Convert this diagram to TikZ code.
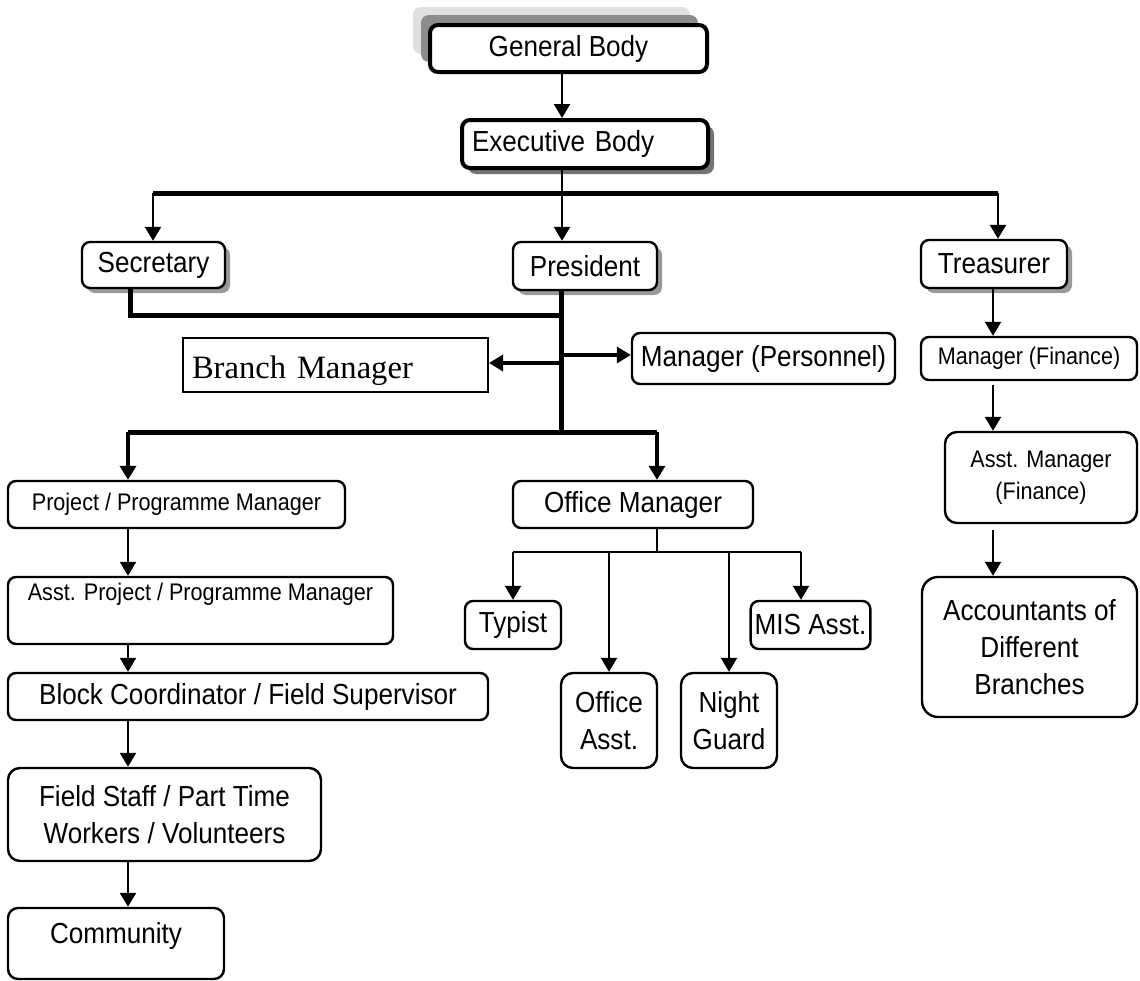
\documentclass[tikz,border=0pt]{standalone}
\usepackage{fontspec}
\setmainfont{Liberation Sans}[FakeStretch=0.9]
\newfontfamily\tnrfont{Liberation Serif}
\usetikzlibrary{arrows.meta,shadows}

\begin{document}
\begin{tikzpicture}[
    x=0.5pt, y=-0.5pt,
    box/.style={rectangle, rounded corners=4pt, draw, line width=1.2pt, fill=white, align=center, inner sep=2pt, font=\fontsize{14.5}{18.5}\selectfont},
    smallbox/.style={box, font=\fontsize{12}{16}\selectfont},
    topbox/.style={box, line width=2pt},
    shade/.style={drop shadow={shadow xshift=2.5pt, shadow yshift=-2.5pt, fill=black!40, opacity=1}},
    link/.style={line width=1.15pt},
    arrow/.style={link, -{Triangle[width=8pt,length=7pt]}},
    midarrow/.style={arrow, line width=1.7pt},
    thickarrow/.style={arrow, line width=2.2pt},
    bus/.style={line width=2.5pt}
]
    \path[use as bounding box, fill=white] (0,0) rectangle (1140,980);

    % top of the chart
    \node[topbox, minimum width=138.5pt, minimum height=23.5pt,
          general shadow={shadow xshift=-8.5pt, shadow yshift=9pt, fill=black!12},
          general shadow={shadow xshift=-4.5pt, shadow yshift=5pt, fill=black!45}] (general) at (568.5,48.5) {General Body};
    \node[topbox, minimum width=123pt, minimum height=24pt, text width=113pt, inner xsep=5pt, align=left,
          drop shadow={shadow xshift=3pt, shadow yshift=-3pt, fill=black!55, opacity=1}] (exec) at (585,144) {Executive Body};

    \node[box, shade, minimum width=71.5pt, minimum height=23pt] (secretary) at (153.5,265) {Secretary};
    \node[box, shade, minimum width=72pt, minimum height=24pt] (president) at (585,266) {President};
    \node[box, shade, minimum width=73pt, minimum height=24pt] (treasurer) at (994,264) {Treasurer};

    \node[rectangle, draw, line width=1pt, fill=white, minimum width=152.5pt, minimum height=27pt,
          text width=143.5pt, inner xsep=4.5pt, align=left, text height=13pt, text depth=0pt,
          font=\tnrfont\fontsize{16.3}{19}\selectfont] (branch) at (335.5,365) {Branch Manager};
    \node[box, minimum width=131.5pt, minimum height=25.5pt] (personnel) at (763.5,358.5) {Manager (Personnel)};

    % finance side
    \node[smallbox, minimum width=108pt, minimum height=21.5pt] (finance) at (1029,358.5) {Manager (Finance)};
    \node[smallbox, rounded corners=6pt, minimum width=96pt, minimum height=45.5pt] (asstfinance) at (1041,477.5) {Asst. Manager\\(Finance)};
    \node[box, rounded corners=8pt, minimum width=107.5pt, minimum height=70pt] (accountants) at (1029.5,647) {Accountants of\\Different\\Branches};

    % project side
    \node[smallbox, minimum width=168.5pt, minimum height=23.5pt] (project) at (176.5,504.5) {Project / Programme Manager};
    \node[smallbox, minimum width=192.5pt, minimum height=33.5pt, text height=9pt, text depth=19.5pt] (asstproject) at (200.5,610.5) {Asst. Project / Programme Manager};
    \node[box, minimum width=240pt, minimum height=23.5pt] (block) at (248,696.5) {Block Coordinator / Field Supervisor};
    \node[box, rounded corners=6pt, minimum width=156.5pt, minimum height=46.5pt] (field) at (164.5,814.5) {Field Staff / Part Time\\Workers / Volunteers};
    \node[box, rounded corners=5pt, minimum width=108pt, minimum height=35.5pt, text height=10pt, text depth=10pt] (community) at (116,943.5) {Community};

    % office side
    \node[box, minimum width=120pt, minimum height=23.5pt] (office) at (633,504.5) {Office Manager};
    \node[box, minimum width=48pt, minimum height=24pt] (typist) at (513,625) {Typist};
    \node[box, rounded corners=6pt, minimum width=48pt, minimum height=47.5pt] (officeasst) at (609,720.5) {Office\\Asst.};
    \node[box, rounded corners=6pt, minimum width=48pt, minimum height=47.5pt] (nightguard) at (729,720.5) {Night\\Guard};
    \node[box, minimum width=57.5pt, minimum height=24pt] (mis) at (810.5,625) {MIS Asst.};

    % junctions
    \coordinate (topbus) at (562,193);
    \coordinate (busL) at (153,193);
    \coordinate (busR) at (998,193);
    \coordinate (secbend) at (130,315);
    \coordinate (spine) at (561,315);
    \coordinate (brj) at (561,363);
    \coordinate (pej) at (561,355);
    \coordinate (lowL) at (128,432);
    \coordinate (lowR) at (657,432);
    \coordinate (lowbus) at (561,432);
    \coordinate (finx) at (993,300);
    \coordinate (ombus) at (657,552);
    \coordinate (omL) at (513,552);
    \coordinate (omR) at (801,552);

    \draw[arrow] (general.south -| topbus) -- (exec.north -| topbus);
    \draw[link] (exec.south -| topbus) -- (topbus);
    \draw[bus] (busL) -- (busR);
    \draw[arrow] (busL) -- (secretary.north -| busL);
    \draw[arrow] (topbus) -- (president.north -| topbus);
    \draw[arrow] (busR) -- (treasurer.north -| busR);

    \draw[bus] (secretary.south -| secbend) |- (spine);
    \draw[bus] (president.south -| spine) -- (lowbus);
    \draw[midarrow] (brj) -- (branch.east |- brj);
    \draw[midarrow] (pej) -- (personnel.west |- pej);

    \draw[bus] (lowL) -- (lowR);
    \draw[thickarrow] (lowL) -- (project.north -| lowL);
    \draw[thickarrow] (lowR) -- (office.north -| lowR);

    \draw[arrow] (project.south -| lowL) -- (asstproject.north -| lowL);
    \draw[arrow] (asstproject.south -| lowL) -- (block.north -| lowL);
    \draw[arrow] (block.south -| lowL) -- (field.north -| lowL);
    \draw[arrow] (field.south -| lowL) -- (community.north -| lowL);

    \draw[arrow] (treasurer.south -| finx) -- (finance.north -| finx);
    \draw[arrow] ([yshift=-2pt]finance.south -| finx) -- (asstfinance.north -| finx);
    \draw[arrow] ([yshift=-3pt]asstfinance.south -| finx) -- (accountants.north -| finx);

    \draw[link] (office.south -| ombus) -- (ombus);
    \draw[link] (omL) -- (omR);
    \draw[arrow] (omL) -- (typist.north -| omL);
    \draw[arrow] (ombus -| officeasst.north) -- (officeasst.north);
    \draw[arrow] (ombus -| nightguard.north) -- (nightguard.north);
    \draw[arrow] (omR) -- (mis.north -| omR);
\end{tikzpicture}
\end{document}
